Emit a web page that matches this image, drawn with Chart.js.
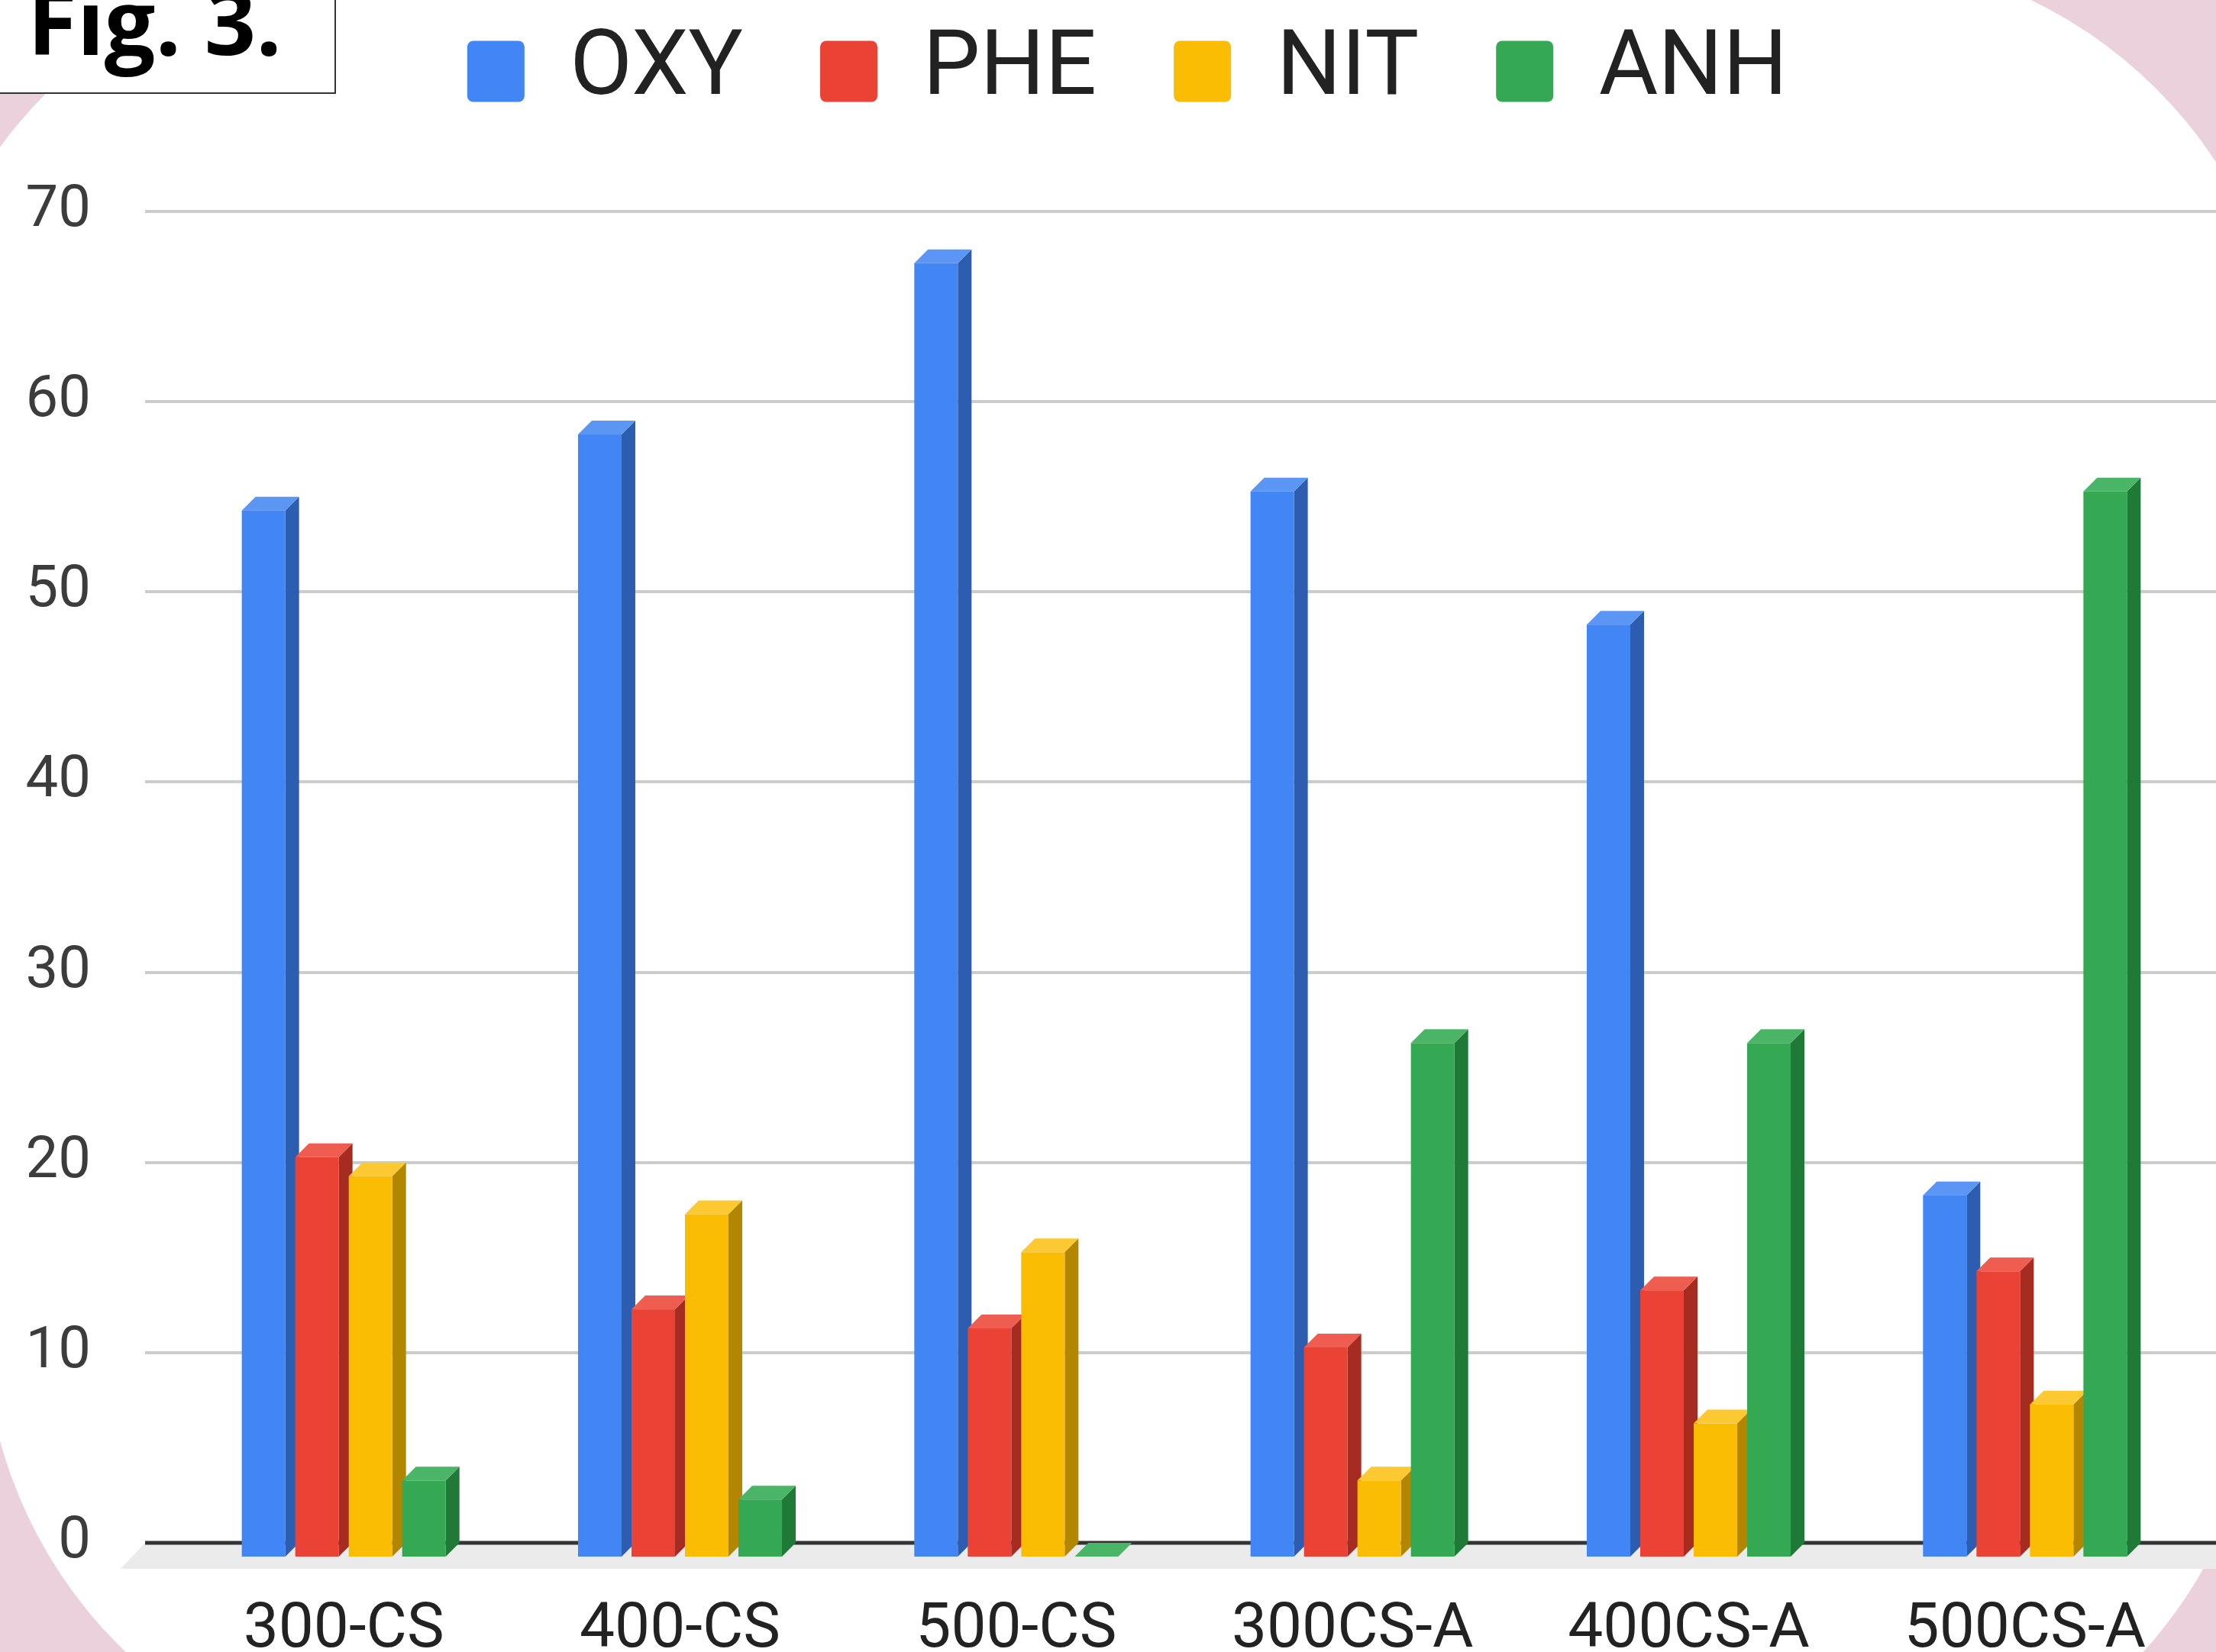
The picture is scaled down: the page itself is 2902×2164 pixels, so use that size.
<!DOCTYPE html>
<html>
<head>
<meta charset="utf-8">
<script src="https://cdn.jsdelivr.net/npm/chart.js@4.4.1/dist/chart.umd.min.js"></script>
<style>
  html, body { margin: 0; padding: 0; }
  body { width: 2902px; height: 2164px; overflow: hidden; position: relative; background: #ead1dc; }
  #chart { position: absolute; left: 0; top: 0; }
  #figbox { position: absolute; left: -3px; top: -3px; width: 443px; height: 126px; box-sizing: border-box; border: 2px solid #333; background: #fff; }
  #figtext { position: absolute; left: 36px; top: -32px; font: 700 118px "Open Sans"; line-height: 1; color: #000; white-space: nowrap; }
</style>
</head>
<body>
<canvas id="chart" width="2902" height="2164"></canvas>
<div id="figbox"></div>
<div id="figtext">Fig. 3.</div>
<script>
var categories = ["300-CS", "400-CS", "500-CS", "300CS-A", "400CS-A", "500CS-A"];
var seriesNames = ["OXY", "PHE", "NIT", "ANH"];
var oxy = [55, 59, 68, 56, 49, 19];
var phe = [21, 13, 12, 11, 14, 15];
var nit = [20, 18, 16, 4, 7, 8];
var anh = [4, 3, 0, 27, 27, 56];
var yTicks = [0, 10, 20, 30, 40, 50, 60, 70];

// face colours: front, side, top
var frontCol = ['#4285f4', '#ea4335', '#fbbc04', '#34a853'];
var sideCol = ['#2c5db0', '#a62b20', '#b38600', '#1f7a37'];
var topCol = ['#5c96f5', '#ee5d4f', '#fcc933', '#4bb567'];

var DEPTH_X = 18, DEPTH_Y = 18;

// pink page with the white rounded panel
var backdrop = {
    id: 'backdrop',
    beforeDraw: function(chart) {
        var ctx = chart.ctx;
        ctx.save();
        ctx.fillStyle = '#ead1dc';
        ctx.fillRect(0, 0, chart.width, chart.height);
        ctx.fillStyle = '#ffffff';
        ctx.beginPath();
        ctx.arc(485, 546, 600, Math.PI, 1.5 * Math.PI);
        ctx.arc(2400, 541, 600, 1.5 * Math.PI, 2 * Math.PI);
        ctx.arc(2363, 1760, 600, 0, 0.5 * Math.PI);
        ctx.arc(579, 1730, 600, 0.5 * Math.PI, Math.PI);
        ctx.closePath();
        ctx.fill();
        ctx.restore();
    }
};

// floor, grid and the bars as boxes
var bars3d = {
    id: 'bars3d',
    beforeDatasetsDraw: function(chart) {
        var ctx = chart.ctx;
        var y = chart.scales.y;
        var area = chart.chartArea;
        var zero = y.getPixelForValue(0);
        var gx = area.left - 40;
        ctx.save();

        ctx.fillStyle = '#ebebeb';
        ctx.beginPath();
        ctx.moveTo(gx, zero);
        ctx.lineTo(chart.width, zero);
        ctx.lineTo(chart.width, zero + 34);
        ctx.lineTo(gx - 32, zero + 34);
        ctx.closePath();
        ctx.fill();

        ctx.lineWidth = 4;
        ctx.strokeStyle = '#cccccc';
        y.ticks.forEach(function(t) {
            if (t.value === 0) return;
            var py = Math.round(y.getPixelForValue(t.value));
            ctx.beginPath();
            ctx.moveTo(gx, py);
            ctx.lineTo(chart.width, py);
            ctx.stroke();
        });

        ctx.lineWidth = 5;
        ctx.strokeStyle = '#333333';
        ctx.beginPath();
        ctx.moveTo(gx, zero);
        ctx.lineTo(chart.width, zero);
        ctx.stroke();

        for (var i = 0; i < categories.length; i++) {
            for (var d = 0; d < chart.data.datasets.length; d++) {
                var el = chart.getDatasetMeta(d).data[i];
                var p = el.getProps(['x', 'y', 'base', 'width'], true);
                var l = p.x - p.width / 2, r = p.x + p.width / 2;
                var top = p.y, base = p.base;

                ctx.fillStyle = sideCol[d];
                ctx.beginPath();
                ctx.moveTo(r, top + DEPTH_Y);
                ctx.lineTo(r + DEPTH_X, top);
                ctx.lineTo(r + DEPTH_X, base);
                ctx.lineTo(r, base + DEPTH_Y);
                ctx.closePath();
                ctx.fill();

                ctx.fillStyle = topCol[d];
                ctx.beginPath();
                ctx.moveTo(l, top + DEPTH_Y);
                ctx.lineTo(r, top + DEPTH_Y);
                ctx.lineTo(r + DEPTH_X, top);
                ctx.lineTo(l + DEPTH_X, top);
                ctx.closePath();
                ctx.fill();

                ctx.fillStyle = frontCol[d];
                ctx.fillRect(l, top + DEPTH_Y, p.width, base - top);
            }
        }
        ctx.restore();
        return false;
    }
};

var seriesData = [oxy, phe, nit, anh];

var chartGraph = new Chart(document.getElementById('chart'), {
    type: 'bar',
    data: {
        labels: categories,
        datasets: seriesNames.map(function(name, k) {
            return {
                label: name,
                data: seriesData[k],
                backgroundColor: frontCol[k],
                borderColor: frontCol[k],
                borderWidth: 0,
                barPercentage: 0.814,
                categoryPercentage: 0.636
            };
        })
    },
    options: {
        responsive: false,
        devicePixelRatio: 1,
        animation: false,
        layout: { padding: { top: -67, left: 30, right: -21, bottom: 0 } },
        plugins: {
            tooltip: { enabled: false },
            legend: {
                position: 'top',
                labels: {
                    font: { family: 'Roboto', size: 119 },
                    color: '#222222',
                    boxWidth: 75,
                    boxHeight: 80,
                    padding: 101,
                    useBorderRadius: true,
                    borderRadius: 8
                }
            },
            title: {
                display: true,
                text: '',
                weight: 500,
                padding: { top: 113, bottom: 0 },
                font: { size: 1, lineHeight: 1 }
            }
        },
        scales: {
            x: {
                grid: { display: false },
                border: { display: false },
                ticks: {
                    padding: 58,
                    maxRotation: 0,
                    autoSkip: false,
                    color: '#222222',
                    font: { family: 'Roboto', size: 82 }
                },
                afterFit: function(scale) { scale.height = 143; }
            },
            y: {
                min: yTicks[0],
                max: yTicks[yTicks.length - 1],
                grid: { display: false },
                border: { display: false },
                ticks: {
                    stepSize: yTicks[1] - yTicks[0],
                    padding: 103,
                    color: '#3c3c3c',
                    font: { family: 'Roboto', size: 76, lineHeight: 0.8 }
                },
                afterFit: function(scale) { scale.width = 200; }
            },
            // empty strip on the right so the legend sits where it should
            yRight: {
                position: 'right',
                grid: { display: false },
                border: { display: false },
                ticks: { display: false },
                afterFit: function(scale) { scale.width = 51; }
            }
        }
    },
    plugins: [backdrop, bars3d]
});
</script>
</body>
</html>
